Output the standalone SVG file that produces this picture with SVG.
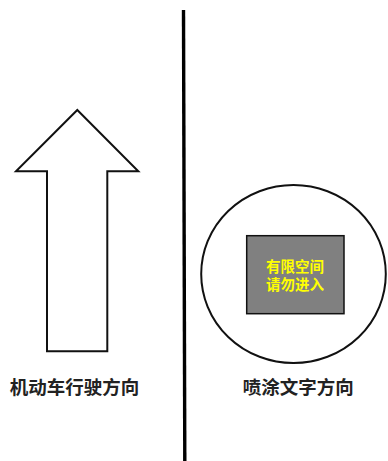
<svg xmlns="http://www.w3.org/2000/svg" width="388" height="461" viewBox="0 0 388 461">
<style>
.label{font-family:"Microsoft YaHei","Noto Sans CJK SC",sans-serif;font-weight:bold;font-size:18.5px;fill:#222;text-anchor:middle}
.sign{font-family:"Microsoft YaHei","Noto Sans CJK SC",sans-serif;font-weight:bold;font-size:14.5px;fill:#ffff00;text-anchor:middle}
.outline{fill:#fff;stroke:#111;stroke-width:2}
</style>
<rect width="388" height="461" fill="#fff"/>
<g id="divider">
<line x1="183.5" y1="10" x2="184.8" y2="461" stroke="#000" stroke-width="3.4"/>
</g>
<g id="arrow">
<polygon class="outline" points="77.3,110 138.3,171.3 107.3,171.3 107.3,351.3 47,351.3 47,171.3 16,171.3"/>
</g>
<g id="left-label">
<text class="label" x="74.5" y="394">机动车行驶方向</text>
</g>
<g id="sign">
<ellipse class="outline" cx="293.5" cy="274" rx="92.3" ry="89"/>
<rect x="246.7" y="235.7" width="97.3" height="78" fill="#808080" stroke="#111" stroke-width="1.5"/>
<text class="sign" x="295" y="271.5">有限空间</text>
<text class="sign" x="295" y="290">请勿进入</text>
</g>
<g id="right-label">
<text class="label" x="298.3" y="394">喷涂文字方向</text>
</g>
</svg>
